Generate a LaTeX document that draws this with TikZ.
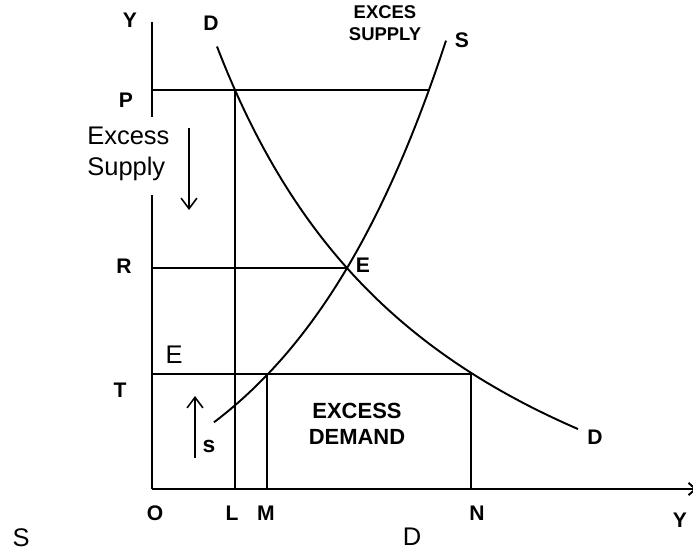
\documentclass[tikz,border=0pt]{standalone}
\usepackage{fontspec}
\setmainfont{Liberation Sans}
\usetikzlibrary{arrows.meta}
\begin{document}
\begin{tikzpicture}[x=0.02cm,y=-0.02cm,
  ln/.style={line width=1.1pt},
  thinln/.style={line width=0.9pt},
  bl/.style={font=\fontsize{12}{14}\selectfont\bfseries, inner sep=0pt},
  rg/.style={font=\fontsize{14.5}{17}\selectfont, inner sep=0pt},
  big/.style={font=\fontsize{12.5}{15}\selectfont\bfseries, inner sep=0pt, align=center}]
\useasboundingbox (0,0) rectangle (693,554);
% key points
\coordinate (O) at (152,489);
\coordinate (Ytop) at (152,22);
\coordinate (Xend) at (697,489);
\coordinate (gapA) at (152,117);
\coordinate (gapB) at (152,195);
\coordinate (Pl) at (152,90);
\coordinate (Pr) at (428,90);
\coordinate (Pd) at (235,90);
\coordinate (Lb) at (235,489);
\coordinate (Rl) at (152,268);
\coordinate (E) at (347,268);
\coordinate (Tl) at (152,374);
\coordinate (Ms) at (267,374);
\coordinate (Mb) at (267,489);
\coordinate (Nd) at (471,374);
\coordinate (Nb) at (471,489);
% axes
\draw[ln] (Ytop) -- (gapA);
\draw[ln] (gapB) -- (O);
\draw[ln,-{Straight Barb[length=4pt,width=7pt]}] (O) -- (Xend);
% horizontal and vertical lines
\draw[ln] (Pl) -- (Pr);
\draw[ln] (Pd) -- (Lb);
\draw[ln] (Rl) -- (E);
\draw[ln] (Tl) -- (Nd);
\draw[ln] (Ms) -- (Mb);
\draw[ln] (Nd) -- (Nb);
% demand curve
\draw[ln] plot[domain=217:578, samples=90, smooth] (\x,{693.8-1617.5/((\x+32.9)/100)});
% supply curve
\draw[ln] plot[domain=214:446, samples=70, smooth] (\x,{548.7-173.7*exp(0.006*(\x-267))});
% arrows
\coordinate (da1) at (189,128);
\coordinate (da2) at (189,210);
\coordinate (ua1) at (195,458);
\coordinate (ua2) at (195,396);
\draw[thinln,-{Straight Barb[length=6pt,width=9pt]}] (da1) -- (da2);
\draw[thinln,-{Straight Barb[length=6pt,width=9pt]}] (ua1) -- (ua2);
% labels
\node[bl] (lY) at (130,20) {Y};
\node[bl] (lD1) at (211,23) {D};
\node[bl] (lS1) at (462,40) {S};
\node[font=\fontsize{10.5}{12.5}\selectfont\bfseries, inner sep=0pt, align=center] (lES) at (385,23) {EXCES\\SUPPLY};
\node[bl] (lP) at (126,100) {P};
\node[font=\fontsize{14.5}{17.2}\selectfont, inner sep=0pt, align=left, anchor=base west] (lEx) at (87,175) {Excess\\Supply};
\node[bl] (lR) at (124,266) {R};
\node[bl] (lE) at (363,265) {E};
\node[rg] (lE2) at (174,355) {E};
\node[bl] (lT) at (120,390) {T};
\node[font=\fontsize{13}{15}\selectfont\bfseries, inner sep=0pt] (ls) at (209,446) {s};
\node[big] (lED) at (357,424) {EXCESS\\DEMAND};
\node[bl] (lD2) at (595,437) {D};
\node[bl] (lO) at (155,513) {O};
\node[bl] (lL) at (232,513) {L};
\node[bl] (lM) at (266,513) {M};
\node[bl] (lN) at (477,513) {N};
\node[bl] (lY2) at (680,520) {Y};
\node[rg] (lS2) at (21,538) {S};
\node[rg] (lD3) at (412,537) {D};
\end{tikzpicture}
\end{document}
